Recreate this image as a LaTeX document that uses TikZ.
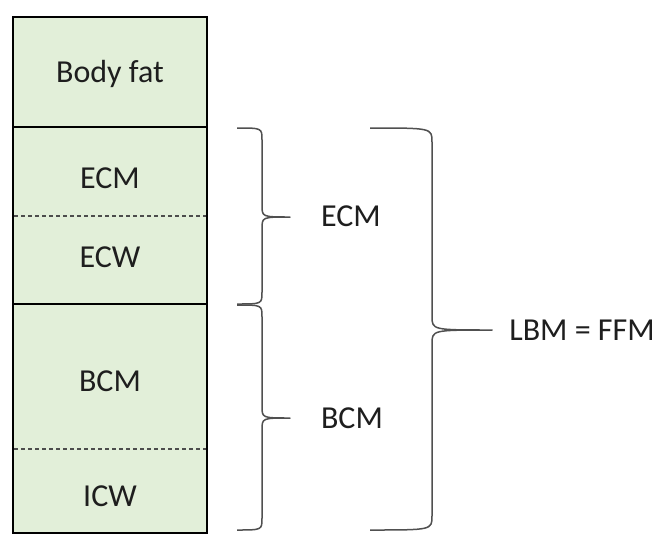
\documentclass[tikz,border=0pt]{standalone}
\usepackage{fontspec}
\setmainfont{Carlito}
\definecolor{cellgreen}{HTML}{E2EFD9}
\definecolor{txt}{HTML}{1E1E1E}
\definecolor{bracegray}{HTML}{505050}
\tikzset{
  cell/.style={draw=black, line width=2.2pt, fill=cellgreen},
  sep/.style={draw=black, line width=1.8pt},
  dsep/.style={draw=black!70, line width=1.2pt, dash pattern=on 4pt off 3pt},
  lbl/.style={font=\fontsize{32}{35}\selectfont, text=txt, inner sep=0pt},
  bracestyle/.style={draw=bracegray, line width=1.5pt, line join=round}
}
% #1 x end, #2 y top, #3 y bottom, #4 x spine, #5 x tip, #6 y tip, #7 radius
\newcommand\drawbrace[7]{%
  \draw[bracestyle] (#1,#2) .. controls (#4,#2) and (#4,#2) .. (#4,#2+#7)
    -- (#4,#6-#7) .. controls (#4,#6) and (#4,#6) .. (#5,#6)
    .. controls (#4,#6) and (#4,#6) .. (#4,#6+#7)
    -- (#4,#3-#7) .. controls (#4,#3) and (#4,#3) .. (#1,#3);}
\begin{document}
\begin{tikzpicture}[x=1pt,y=-1pt]
\useasboundingbox (0,0) rectangle (669,544);
\fill[white] (0,0) rectangle (669,544);
% column
\path[cell] (13,17) rectangle (207,533);
\draw[dsep] (14,216) -- (206,216);
\draw[dsep] (14,449) -- (206,449);
\draw[sep] (13,127) -- (207,127);
\draw[sep] (13,304) -- (207,304);
\draw[line width=2.2pt] (13,17) rectangle (207,533);
% labels in column
\node[lbl] (bodyfat) at (110,74) {Body fat};
\node[lbl] (ecm) at (110,178) {ECM};
\node[lbl] (ecw) at (110,257) {ECW};
\node[lbl] (bcm) at (110,381) {BCM};
\node[lbl] (icw) at (110,496) {ICW};
% braces
\drawbrace{237}{128}{304}{262}{290}{217}{12}
\drawbrace{237}{305}{530}{262}{290}{418}{12}
\drawbrace{370}{128}{530}{432}{492}{330}{14}
% brace labels
\node[lbl] (ecmgrp) at (351,216) {ECM};
\node[lbl] (bcmgrp) at (352,418) {BCM};
\node[lbl] (lbm) at (582,330) {LBM = FFM};
\end{tikzpicture}
\end{document}
